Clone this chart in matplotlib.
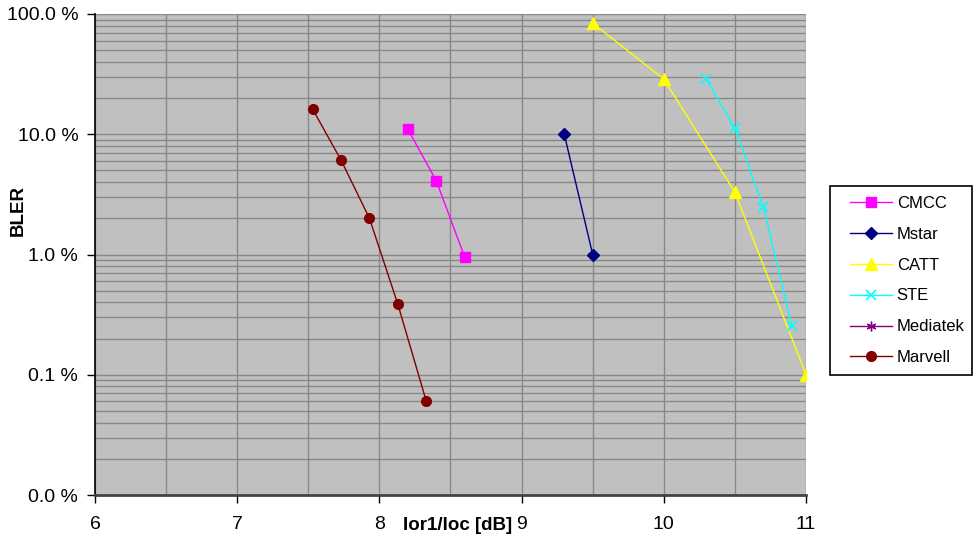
import matplotlib
matplotlib.use("Agg")
import matplotlib.pyplot as plt
from matplotlib.ticker import FixedLocator, FuncFormatter, LogLocator, MultipleLocator
from matplotlib.lines import Line2D
from matplotlib.patches import Rectangle

plt.rcParams['font.family'] = ['Liberation Sans', 'DejaVu Sans']

# Data (x in dB, BLER in percent)
cmcc_x = [8.2, 8.4, 8.6]
cmcc_y = [11.0, 4.1, 0.95]
mstar_x = [9.3, 9.5]
mstar_y = [10.0, 1.0]
catt_x = [9.5, 10.0, 10.5, 11.0]
catt_y = [84.0, 28.7, 3.3, 0.1]
ste_x = [10.3, 10.5, 10.7, 10.9]
ste_y = [28.7, 11.2, 2.5, 0.256]
mediatek_x = []
mediatek_y = []
marvell_x = [7.53, 7.73, 7.93, 8.13, 8.33]
marvell_y = [16.2, 6.1, 2.0, 0.385, 0.060]

x_ticks = [6, 7, 8, 9, 10, 11]
y_ticks = [0.01, 0.1, 1, 10, 100]
series_labels = ['CMCC', 'Mstar', 'CATT', 'STE', 'Mediatek', 'Marvell']

fig = plt.figure(figsize=(9.73, 5.42), dpi=100)
ax = fig.add_axes([95/973, 1-495/542, (806-95)/973, (495-14)/542])
ax.set_facecolor('#C0C0C0')

ax.set_yscale('log')
ax.set_xlim(6, 11)
ax.set_ylim(0.01, 100)

ax.xaxis.set_major_locator(FixedLocator(x_ticks))
ax.xaxis.set_minor_locator(MultipleLocator(0.5))
ax.yaxis.set_major_locator(FixedLocator(y_ticks))
ax.yaxis.set_minor_locator(LogLocator(base=10, subs=range(2, 10)))
ax.yaxis.set_major_formatter(FuncFormatter(lambda v, p: f"{v:.1f} %"))
ax.grid(True, which='both', axis='both', color='#888888', lw=1.0)
ax.set_axisbelow(True)

ax.tick_params(axis='both', which='minor', length=0)
ax.tick_params(axis='both', which='major', length=6, width=1, color='black',
               labelsize=14, direction='out')
ax.tick_params(axis='x', pad=9)
ax.tick_params(axis='y', pad=6)

for side in ['top', 'right']:
    ax.spines[side].set_visible(False)
ax.spines['left'].set_color('black')
ax.spines['left'].set_linewidth(1.2)
ax.spines['bottom'].set_color('#444444')
ax.spines['bottom'].set_linewidth(2)

lw = 1.0
styles = [
    dict(color='#FF00FF', marker='s', ms=7),
    dict(color='#000080', marker='D', ms=6),
    dict(color='#FFFF00', marker='^', ms=9),
    dict(color='#00FFFF', marker='x', ms=7, mew=1.2),
    dict(color='#800080', marker=(6, 2, 0), ms=7, mew=1.0),
    dict(color='#800000', marker='o', ms=7),
]
data = [(cmcc_x, cmcc_y), (mstar_x, mstar_y), (catt_x, catt_y),
        (ste_x, ste_y), (mediatek_x, mediatek_y), (marvell_x, marvell_y)]
for (xs, ys), st, lab in zip(data, styles, series_labels):
    ax.plot(xs, ys, lw=lw, label=lab, **st)

fig.text(18/973, 1-210/542, 'BLER', rotation=90, ha='center', va='center',
         fontsize=13.5, fontweight='bold')
fig.text(458/973, 1-526/542, 'Ior1/Ioc [dB]', ha='center', va='center',
         fontsize=13.5, fontweight='bold')

# legend box
fig.patches.append(Rectangle((830/973, 1-375/542), 142/973, 189/542,
                             transform=fig.transFigure, facecolor='white',
                             edgecolor='black', lw=1.2, zorder=1))
handles = [Line2D([], [], lw=lw, **st) for st in styles]
leg = fig.legend(handles, series_labels, loc='upper left',
                 bbox_to_anchor=(850/973, 1-196/542), fontsize=12,
                 frameon=False, borderpad=0, labelspacing=0.95,
                 handlelength=2.5, handletextpad=0.3, borderaxespad=0)
leg.set_zorder(2)

fig.savefig('out.png', dpi=100, facecolor='white')
